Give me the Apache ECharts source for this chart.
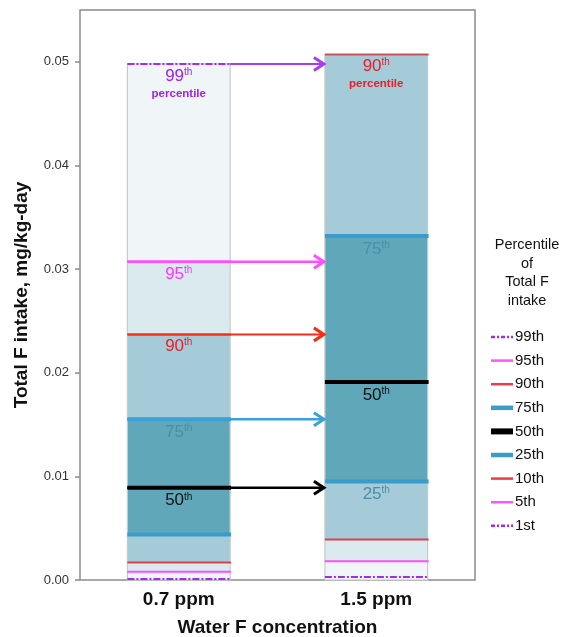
<!DOCTYPE html>
<html><head><meta charset="utf-8">
<script src="https://cdn.jsdelivr.net/npm/echarts@6/dist/echarts.min.js"></script>
<style>html,body{margin:0;padding:0;background:#fff}#c{width:561px;height:637px}</style>
</head><body><div id="c"></div>
<script>
// ---- data ----
const categories = ['0.7 ppm', '1.5 ppm'];
const percentiles = ['1st', '5th', '10th', '25th', '50th', '75th', '90th', '95th', '99th'];
const intake07 = [0.0001, 0.0008, 0.0017, 0.0044, 0.0089, 0.0155, 0.0237, 0.0307, 0.0498];
const intake15 = [0.0003, 0.0018, 0.0039, 0.0095, 0.0191, 0.0332, 0.0507, null, null];
const yTicks = [0, 0.01, 0.02, 0.03, 0.04, 0.05];
const arrowPercentiles = ['50th', '75th', '90th', '95th', '99th'];
const labels07 = ['50th', '75th', '90th', '95th', '99th'];
const labels15 = ['25th', '50th', '75th', '90th'];

// ---- styles ----
const FONT = '"Liberation Sans", Arial, Helvetica, sans-serif';
const BAR_FRAC = 0.52;
const bandFills = ['#f0f6f8', '#f0f6f8', '#dbeaef', '#a4cbd7', '#5fa7b9', '#5fa7b9', '#a4cbd7', '#dbeaef', '#f0f6f8'];
const pStyle = {
  '1st':  {color: '#a52af0', width: 2, dash: [7, 2, 2, 2], legend: '#a52af0', label: '#a020f0'},
  '5th':  {color: '#ff4dff', width: 2, legend: '#ff55ff'},
  '10th': {color: '#d8434f', width: 2, legend: '#ee3a48'},
  '25th': {color: '#3a9ccb', width: 4, legend: '#3a9ccb', label: '#4b8ea8'},
  '50th': {color: '#000000', width: 4, legend: '#000000', label: '#111111'},
  '75th': {color: '#3a9ccb', width: 4, legend: '#3a9ccb', label: '#4b8ea8', arrow: '#3aa2d8'},
  '90th': {color: '#c8505a', width: 2, legend: '#ee3a48', label: '#e8202a', arrow: '#f52d14'},
  '95th': {color: '#ff4dff', width: 2.5, legend: '#ff55ff', label: '#ff33ff', arrow: '#ff4dff'},
  '99th': {color: '#a52af0', width: 2, dash: [7, 2, 2, 2], legend: '#a52af0', label: '#a020f0', arrow: '#a83cf2'}
};

const seriesVals = [intake07, intake15];

// band data: [catIndex, low, high, bandIndex]
const bandData = [];
const borderData = [];
seriesVals.forEach((vals, ci) => {
  let prev = 0;
  let top = 0;
  vals.forEach((v, i) => {
    if (v == null) return;
    bandData.push([ci, prev, v, i]);
    prev = v; top = v;
  });
  borderData.push([ci, 0, top]);
});

// percentile line data: [catIndex, value, pIndex]
const lineData = [];
seriesVals.forEach((vals, ci) => {
  vals.forEach((v, i) => { if (v != null) lineData.push([ci, v, i]); });
});

// arrows: [value, pIndex]
const arrowData = arrowPercentiles.map(p => [intake07[percentiles.indexOf(p)], percentiles.indexOf(p)]);

// labels: [catIndex, value, pIndex, isTop]
const labelData = [];
[[labels07, 0], [labels15, 1]].forEach(([lab, ci]) => {
  const topIdx = Math.max(...lab.map(p => percentiles.indexOf(p)));
  lab.forEach(p => {
    const i = percentiles.indexOf(p);
    labelData.push([ci, seriesVals[ci][i], i, i === topIdx ? 1 : 0]);
  });
});

function barWidth(api) { return api.size([1, 0])[0] * BAR_FRAC; }

function renderBand(params, api) {
  const c = api.value(0), lo = api.value(1), hi = api.value(2), b = api.value(3);
  const p0 = api.coord([c, lo]), p1 = api.coord([c, hi]);
  const w = barWidth(api);
  return {type: 'rect', shape: {x: p0[0] - w / 2, y: p1[1], width: w, height: p0[1] - p1[1]},
    style: {fill: bandFills[b]}};
}
function renderBorder(params, api) {
  const c = api.value(0), lo = api.value(1), hi = api.value(2);
  const p0 = api.coord([c, lo]), p1 = api.coord([c, hi]);
  const w = barWidth(api);
  return {type: 'rect', shape: {x: p0[0] - w / 2, y: p1[1], width: w, height: p0[1] - p1[1]},
    style: {fill: 'none', stroke: '#c9c9c9', lineWidth: 1.2}};
}
function renderLine(params, api) {
  const c = api.value(0), v = api.value(1), i = api.value(2);
  const s = pStyle[percentiles[i]];
  const p = api.coord([c, v]);
  const w = barWidth(api);
  return {type: 'line', shape: {x1: p[0] - w / 2, y1: p[1], x2: p[0] + w / 2 + 1, y2: p[1]},
    style: {stroke: s.color, lineWidth: s.width, lineDash: s.dash || null}};
}
function renderArrow(params, api) {
  const v = api.value(0), i = api.value(1);
  const s = pStyle[percentiles[i]];
  const col = s.arrow || s.color;
  const w = barWidth(api);
  const a = api.coord([0, v]), b = api.coord([1, v]);
  const x1 = s.dash ? a[0] + w / 2 : a[0] - w / 2;
  const x2 = b[0] - w / 2 - 1;
  const y = a[1];
  const lw = Math.max(2, s.width === 4 ? 2.5 : s.width);
  return {type: 'group', children: [
    {type: 'line', shape: {x1: x1, y1: y, x2: x2 - 1, y2: y}, style: {stroke: col, lineWidth: lw}},
    {type: 'polyline', shape: {points: [[x2 - 10, y - 6.5], [x2, y], [x2 - 10, y + 6.5]]},
      style: {stroke: col, lineWidth: 3, fill: 'none', lineJoin: 'miter'}}
  ]};
}
function renderLabel(params, api) {
  const c = api.value(0), v = api.value(1), i = api.value(2), isTop = api.value(3);
  const name = percentiles[i];
  const s = pStyle[name];
  const p = api.coord([c, v]);
  const num = name.replace(/[a-z]+$/, '');
  const suf = name.slice(num.length);
  let text = '{n|' + num + '}{s|' + suf + '}';
  if (isTop) text += '\n{p|percentile}';
  return {type: 'text', style: {
    x: p[0], y: p[1] + 2 + s.width / 2, text: text, align: 'center', verticalAlign: 'top',
    fill: s.label, fontFamily: FONT,
    rich: {
      n: {fontSize: 17, lineHeight: 18, fontFamily: FONT, fill: s.label},
      s: {fontSize: 10, lineHeight: 10, verticalAlign: 'top', fontFamily: FONT, fill: s.label},
      p: {fontSize: 11.5, lineHeight: 17, fontWeight: 'bold', fontFamily: FONT, fill: s.label}
    }
  }};
}

// legend graphics (built from percentile arrays)
const legendItems = percentiles.slice().reverse();
const legendGraphics = [{type: 'text', x: 527, y: 236,
  style: {text: 'Percentile\nof\nTotal F\nintake', align: 'center', verticalAlign: 'top', fill: '#111',
    font: '14.5px ' + FONT, lineHeight: 18.5}}];
legendItems.forEach((p, k) => {
  const s = pStyle[p];
  const y = 337 + k * 23.6;
  legendGraphics.push({type: 'line', shape: {x1: 491, y1: y, x2: 513, y2: y},
    style: {stroke: s.legend, lineWidth: s.width === 4 ? (p === '50th' ? 6 : 4.5) : 2.5, lineDash: s.dash ? [4, 2, 2, 2] : null}});
  legendGraphics.push({type: 'text', x: 515, y: y,
    style: {text: p, align: 'left', verticalAlign: 'middle', fill: '#111', font: '15px ' + FONT}});
});

const chart = echarts.init(document.getElementById('c'), null, {renderer: 'canvas'});
chart.setOption({
  animation: false,
  backgroundColor: '#fff',
  grid: {left: 80, right: 86, top: 10, bottom: 57, show: true, borderColor: '#8c8c8c', borderWidth: 1.5,
    backgroundColor: 'transparent', containLabel: false, outerBoundsMode: 'none'},
  xAxis: {
    type: 'category', data: categories, boundaryGap: true,
    axisLine: {show: false}, axisTick: {show: false}, splitLine: {show: false},
    axisLabel: {fontSize: 19, fontWeight: 'bold', color: '#111', fontFamily: FONT, margin: 10},
    name: 'Water F concentration', nameLocation: 'middle', nameGap: 38,
    nameTextStyle: {fontSize: 19, fontWeight: 'bold', color: '#111', fontFamily: FONT}
  },
  yAxis: {
    type: 'value', min: 0, max: 0.055, interval: 0.01,
    axisLine: {show: false}, splitLine: {show: false},
    axisTick: {show: true, inside: false, length: 5, lineStyle: {color: '#8c8c8c', width: 1.5},
      customValues: yTicks},
    axisLabel: {fontSize: 13, color: '#333', fontFamily: FONT, margin: 11,
      customValues: yTicks,
      formatter: v => yTicks.some(t => Math.abs(t - v) < 1e-9) ? v.toFixed(2) : ''},
    name: 'Total F intake, mg/kg-day', nameLocation: 'middle', nameGap: 49,
    nameTextStyle: {fontSize: 19, fontWeight: 'bold', color: '#111', fontFamily: FONT}
  },
  series: [
    {type: 'custom', coordinateSystem: 'cartesian2d', renderItem: renderBand, data: bandData, z: 1, encode: {x: 0, y: [1, 2]}, silent: true},
    {type: 'custom', coordinateSystem: 'cartesian2d', renderItem: renderBorder, data: borderData, z: 2, encode: {x: 0, y: [1, 2]}, silent: true},
    {type: 'custom', coordinateSystem: 'cartesian2d', renderItem: renderLine, data: lineData, z: 3, encode: {x: 0, y: 1}, silent: true},
    {type: 'custom', coordinateSystem: 'cartesian2d', renderItem: renderArrow, data: arrowData, z: 4, encode: {y: 0}, silent: true},
    {type: 'custom', coordinateSystem: 'cartesian2d', renderItem: renderLabel, data: labelData, z: 5, encode: {x: 0, y: 1}, silent: true}
  ],
  graphic: legendGraphics
});
</script></body></html>
